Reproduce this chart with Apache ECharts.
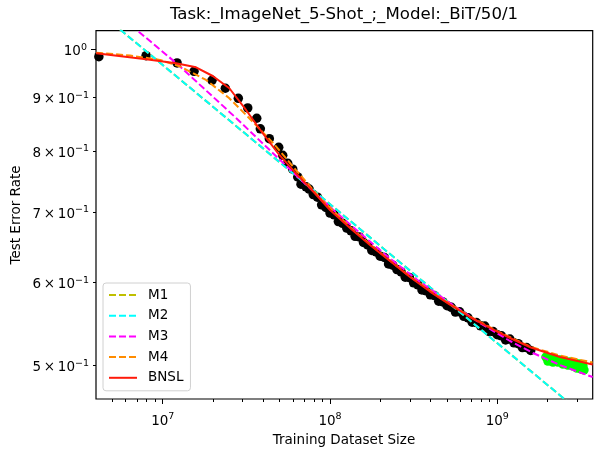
<!DOCTYPE html>
<html>
<head>
<meta charset="utf-8">
<script src="https://cdn.jsdelivr.net/npm/echarts@6/dist/echarts.min.js"></script>
<style>
  html, body { margin: 0; padding: 0; background: #fff; }
  #chart { width: 602px; height: 457px; }
</style>
</head>
<body>
<div id="chart"></div>
<script>
// axis limits (data units)
var X_MIN = 3.99e6, X_MAX = 3.72e9;
var Y_MIN = 0.4644, Y_MAX = 1.0416;

// observed points (black = fit, green = held out)
var blackSize = [4.15e6, 7.95e6, 1.218e7, 1.539e7, 1.971e7, 2.367e7, 2.830e7, 3.222e7, 3.647e7, 3.832e7,
  4.337e7, 4.936e7, 5.215e7, 5.587e7, 5.984e7, 6.411e7, 6.708e7, 7.187e7,
  7.50e7, 7.94e7, 8.41e7, 8.91e7, 9.44e7, 1.00e8, 1.059e8, 1.122e8, 1.189e8, 1.259e8,
  1.334e8, 1.413e8, 1.496e8, 1.585e8, 1.679e8, 1.778e8, 1.884e8, 1.995e8, 2.113e8, 2.239e8,
  2.371e8, 2.512e8, 2.661e8, 2.818e8, 2.985e8, 3.162e8, 3.350e8, 3.548e8, 3.758e8, 3.981e8,
  4.217e8, 4.467e8, 4.732e8, 5.012e8, 5.309e8, 5.623e8, 5.957e8, 6.310e8, 6.683e8, 7.079e8,
  7.499e8, 7.943e8, 8.414e8, 8.913e8, 9.441e8, 1.000e9, 1.059e9, 1.122e9, 1.189e9, 1.259e9,
  1.334e9, 1.413e9, 1.496e9, 1.585e9];
var blackErr = [0.9839, 0.986, 0.9704, 0.9529, 0.9343, 0.9181, 0.8981, 0.8793, 0.8596, 0.8400,
  0.8219, 0.8065, 0.7925, 0.7788, 0.7687, 0.7559, 0.7439, 0.7396,
  0.7360, 0.7272, 0.7229, 0.7110, 0.7069, 0.6983, 0.6956, 0.6853, 0.6827, 0.6757,
  0.6716, 0.6635, 0.6626, 0.6546, 0.6510, 0.6433, 0.6413, 0.6352, 0.6334, 0.6245,
  0.6228, 0.6169, 0.6137, 0.6066, 0.6061, 0.5992, 0.5966, 0.5899, 0.5887, 0.5836,
  0.5827, 0.5755, 0.5746, 0.5699, 0.5678, 0.5619, 0.5623, 0.5567, 0.5549, 0.5496,
  0.5492, 0.5452, 0.5449, 0.5386, 0.5384, 0.5347, 0.5334, 0.5286, 0.5297, 0.5253,
  0.5243, 0.5199, 0.5199, 0.5166];
var greenSize = [1.955e9, 2.009e9, 2.065e9, 2.152e9, 2.212e9, 2.306e9, 2.371e9, 2.470e9, 2.539e9,
  2.646e9, 2.720e9, 2.835e9, 2.914e9, 2.995e9, 3.078e9, 3.164e9, 3.253e9, 3.298e9];
var greenErr = [0.5092, 0.5047, 0.5081, 0.5036, 0.5069, 0.5036, 0.5058, 0.5014, 0.5047,
  0.5003, 0.5036, 0.4992, 0.5025, 0.4970, 0.5014, 0.4960, 0.4992, 0.4949];

// fitted curves
var m2Size = [5.0e6, 2.82e9];
var m2Err = [1.059, 0.4575];
var m1Size = [5.0e6, 2.82e9];
var m1Err = [1.059, 0.4575];
var m3Size = [7.186e6, 1.201e7, 2.743e7, 6.265e7, 1.0e8, 1.511e8, 2.284e8, 3.451e8, 5.215e8,
  7.881e8, 1.191e9, 1.635e9, 2.371e9, 3.717e9];
var m3Err = [1.0394, 0.9704, 0.8602, 0.7587, 0.7076, 0.6683, 0.6320, 0.6003, 0.5732,
  0.5486, 0.5274, 0.5137, 0.5003, 0.4873];
var m4Size = [4.0e6, 6.375e6, 9.636e6, 1.269e7, 1.815e7, 2.491e7, 3.280e7, 4.564e7, 6.265e7,
  8.716e7, 1.317e8, 1.990e8, 3.008e8, 4.545e8, 6.868e8, 1.038e9, 1.590e9, 2.371e9, 3.717e9];
var m4Err = [0.9926, 0.9865, 0.9768, 0.9630, 0.9349, 0.8987, 0.8602, 0.8143, 0.7672,
  0.7217, 0.6772, 0.6403, 0.6075, 0.5801, 0.5565, 0.5373, 0.5205, 0.5109, 0.5031];
var bnslSize = [4.0e6, 7.95e6, 1.201e7, 1.581e7, 1.990e7, 2.501e7, 3.147e7, 3.960e7, 4.977e7,
  6.265e7, 7.596e7, 8.716e7, 1.0e8, 1.317e8, 1.734e8, 2.284e8, 3.008e8, 3.960e8, 5.215e8,
  6.868e8, 9.044e8, 1.191e9, 1.590e9, 2.371e9, 3.717e9];
var bnslErr = [0.9913, 0.9783, 0.9698, 0.9613, 0.9431, 0.9181, 0.8754, 0.8318, 0.7932,
  0.7616, 0.7377, 0.7201, 0.7030, 0.6757, 0.6510, 0.6285, 0.6069, 0.5878, 0.5713,
  0.5559, 0.5427, 0.5309, 0.5199, 0.5092, 0.5009];

// ticks
var xMajor = [1e7, 1e8, 1e9];
var xMinor = [5e6, 6e6, 7e6, 8e6, 9e6, 2e7, 3e7, 4e7, 5e7, 6e7, 7e7, 8e7, 9e7,
  2e8, 3e8, 4e8, 5e8, 6e8, 7e8, 8e8, 9e8, 2e9, 3e9];
var yMajor = [1.0];
var yMinor = [0.5, 0.6, 0.7, 0.8, 0.9];

var FONT = 'DejaVu Sans';
var lg = Math.log10;
function pts(xs, ys) {
  return xs.map(function (x, i) { return [lg(x), lg(ys[i])]; });
}
var rich = {
  b: { fontFamily: FONT, fontSize: 13.5, color: '#000', lineHeight: 14, padding: [5, 0, 0, 0] },
  s: { fontFamily: FONT, fontSize: 9.5, color: '#000', lineHeight: 10, verticalAlign: 'top' }
};

var chart = echarts.init(document.getElementById('chart'));
var dash = [7, 3];
function lineSeries(name, xs, ys, color, type, z) {
  return {
    name: name, type: 'line', data: pts(xs, ys), symbol: 'none', z: z,
    lineStyle: { color: color, width: 2, type: type }, itemStyle: { color: color },
    silent: true, animation: false
  };
}

var option = {
  animation: false,
  grid: { left: 96, right: 9.3, top: 30.7, bottom: 58, show: true, borderColor: '#000', borderWidth: 1.2 },
  xAxis: [{
    type: 'value', min: lg(X_MIN), max: lg(X_MAX), position: 'bottom',
    axisLine: { show: false, onZero: false }, splitLine: { show: false },
    axisTick: { show: true, length: 5, lineStyle: { color: '#000' }, customValues: xMajor.map(lg) },
    axisLabel: {
      show: true, margin: 13, customValues: xMajor.map(lg),
      formatter: function (v) { return '{b|10}{s|' + Math.round(v) + '}'; }, rich: rich
    }
  }, {
    type: 'value', min: lg(X_MIN), max: lg(X_MAX), position: 'bottom',
    axisLine: { show: false, onZero: false }, splitLine: { show: false },
    axisTick: { show: true, length: 3, lineStyle: { color: '#000' }, customValues: xMinor.map(lg) },
    axisLabel: { show: false }
  }],
  yAxis: [{
    type: 'value', min: lg(Y_MIN), max: lg(Y_MAX), position: 'left',
    axisLine: { show: false, onZero: false }, splitLine: { show: false },
    axisTick: { show: true, length: 5, lineStyle: { color: '#000' }, customValues: yMajor.map(lg) },
    axisLabel: {
      show: true, margin: 9, customValues: yMajor.map(lg),
      formatter: function () { return '{b|10}{s|0}'; }, rich: rich
    }
  }, {
    type: 'value', min: lg(Y_MIN), max: lg(Y_MAX), position: 'left',
    axisLine: { show: false, onZero: false }, splitLine: { show: false },
    axisTick: { show: true, length: 3, lineStyle: { color: '#000' }, customValues: yMinor.map(lg) },
    axisLabel: {
      show: true, margin: 7, customValues: yMinor.map(lg),
      formatter: function (v) { return '{b|' + Math.round(Math.pow(10, v) * 10) + '\u2009×\u200910}{s|−1}'; }, rich: rich
    }
  }],
  legend: {
    orient: 'vertical', left: 103, top: 283,
    data: ['M1', 'M2', 'M3', 'M4', 'BNSL'],
    itemWidth: 28, itemHeight: 14, itemGap: 6.7,
    padding: [5, 7, 6, 5],
    borderColor: '#d0d0d0', borderWidth: 1, borderRadius: 3,
    backgroundColor: 'rgba(255,255,255,0.85)',
    itemStyle: { opacity: 0 },
    textStyle: { fontFamily: FONT, fontSize: 13.5, color: '#000', padding: [0, 0, 0, 6] }
  },
  graphic: [
    { type: 'text', x: 344, y: 15, style: { text: 'Task:_ImageNet_5-Shot_;_Model:_BiT/50/1', font: '16.6px "DejaVu Sans"', fill: '#000', align: 'center', verticalAlign: 'middle' } },
    { type: 'text', x: 344, y: 440, style: { text: 'Training Dataset Size', font: '13.5px "DejaVu Sans"', fill: '#000', align: 'center', verticalAlign: 'middle' } },
    { type: 'text', x: 16, y: 215, rotation: Math.PI / 2, style: { text: 'Test Error Rate', font: '13.5px "DejaVu Sans"', fill: '#000', align: 'center', verticalAlign: 'middle' } }
  ],
  series: [
    { type: 'scatter', data: pts(blackSize, blackErr), symbolSize: 9.5, itemStyle: { color: '#000', opacity: 1 }, z: 2, silent: true },
    { type: 'scatter', data: pts(greenSize, greenErr), symbolSize: 9.5, itemStyle: { color: '#00ff00', opacity: 1 }, z: 2, silent: true },
    lineSeries('M1', m1Size, m1Err, '#bfbf00', dash, 3),
    lineSeries('M2', m2Size, m2Err, '#00ffff', dash, 3),
    lineSeries('M3', m3Size, m3Err, '#ff00ff', dash, 3),
    lineSeries('M4', m4Size, m4Err, '#ff8c00', dash, 3),
    lineSeries('BNSL', bnslSize, bnslErr, '#ff1a0a', 'solid', 3)
  ]
};
chart.setOption(option);
</script>
</body>
</html>
